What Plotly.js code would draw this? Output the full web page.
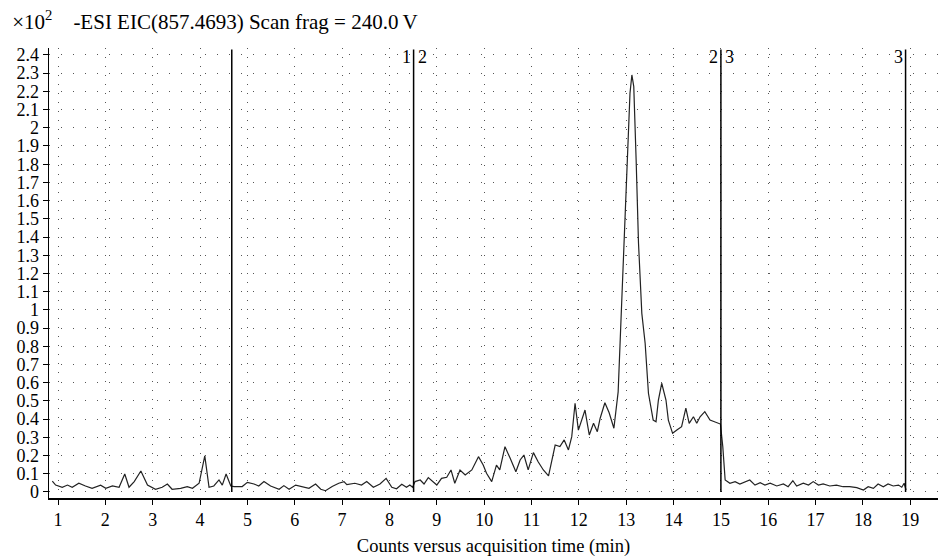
<!DOCTYPE html>
<html>
<head>
<meta charset="utf-8">
<script src="https://cdn.plot.ly/plotly-3.0.1.min.js"></script>
<style>
  html, body { margin: 0; padding: 0; background: #fff; }
  #chart { width: 938px; height: 559px; }
</style>
</head>
<body>
<div id="chart"></div>
<script>
// Acquisition time (min)
var times = [
  0.88, 0.95, 1.09, 1.20, 1.30, 1.44, 1.58, 1.72, 1.90, 2.01,
  2.15, 2.29, 2.41, 2.50, 2.61, 2.75, 2.89, 3.06, 3.20, 3.31,
  3.41, 3.59, 3.73, 3.84, 3.98, 4.10, 4.19, 4.29, 4.40, 4.47,
  4.55, 4.65, 4.72, 4.89, 5.00, 5.14, 5.24, 5.35, 5.49, 5.67,
  5.77, 5.88, 6.02, 6.16, 6.30, 6.44, 6.55, 6.65, 6.79, 6.93,
  7.04, 7.10, 7.27, 7.41, 7.52, 7.66, 7.80, 7.93, 8.05, 8.15,
  8.26, 8.36, 8.43, 8.49, 8.54, 8.65, 8.73, 8.82, 8.91, 9.00,
  9.10, 9.21, 9.30, 9.38, 9.49, 9.60, 9.74, 9.88, 9.98, 10.05,
  10.16, 10.26, 10.33, 10.44, 10.55, 10.67, 10.76, 10.84, 10.93, 11.04,
  11.14, 11.25, 11.36, 11.50, 11.60, 11.69, 11.78, 11.85, 11.92, 11.99,
  12.13, 12.22, 12.31, 12.39, 12.45, 12.55, 12.64, 12.74, 12.83, 12.94,
  13.01, 13.08, 13.12, 13.16, 13.21, 13.26, 13.33, 13.40, 13.47, 13.57,
  13.63, 13.68, 13.75, 13.84, 13.89, 13.98, 14.07, 14.17, 14.26, 14.33,
  14.42, 14.49, 14.56, 14.66, 14.77, 14.87, 14.99, 15.04, 15.09, 15.19,
  15.30, 15.40, 15.51, 15.61, 15.72, 15.83, 15.93, 16.04, 16.18, 16.32,
  16.42, 16.52, 16.60, 16.74, 16.85, 16.95, 17.06, 17.16, 17.30, 17.44,
  17.58, 17.72, 17.87, 18.01, 18.11, 18.22, 18.32, 18.43, 18.53, 18.64,
  18.75, 18.82, 18.87, 18.91
];
// Counts (x10^2)
var counts = [
  0.060, 0.038, 0.026, 0.038, 0.026, 0.048, 0.033, 0.020, 0.037, 0.020,
  0.033, 0.026, 0.099, 0.026, 0.057, 0.115, 0.038, 0.015, 0.026, 0.044,
  0.015, 0.020, 0.029, 0.020, 0.048, 0.198, 0.026, 0.033, 0.066, 0.038,
  0.099, 0.033, 0.030, 0.030, 0.053, 0.044, 0.033, 0.057, 0.033, 0.015,
  0.035, 0.015, 0.038, 0.030, 0.020, 0.044, 0.015, 0.007, 0.030, 0.048,
  0.057, 0.040, 0.048, 0.038, 0.057, 0.026, 0.044, 0.075, 0.026, 0.018,
  0.042, 0.026, 0.038, 0.026, 0.057, 0.066, 0.044, 0.079, 0.057, 0.038,
  0.075, 0.081, 0.121, 0.048, 0.121, 0.093, 0.121, 0.194, 0.148, 0.103,
  0.057, 0.148, 0.121, 0.249, 0.185, 0.111, 0.176, 0.203, 0.121, 0.216,
  0.166, 0.121, 0.088, 0.258, 0.249, 0.286, 0.231, 0.304, 0.487, 0.340,
  0.450, 0.313, 0.377, 0.331, 0.405, 0.490, 0.435, 0.350, 0.550, 1.274,
  1.823, 2.190, 2.290, 2.226, 1.823, 1.366, 0.981, 0.817, 0.542, 0.395,
  0.386, 0.505, 0.597, 0.505, 0.395, 0.322, 0.340, 0.359, 0.460, 0.377,
  0.413, 0.377, 0.413, 0.441, 0.395, 0.386, 0.373, 0.249, 0.066, 0.048,
  0.057, 0.044, 0.057, 0.066, 0.038, 0.051, 0.038, 0.048, 0.033, 0.044,
  0.029, 0.062, 0.033, 0.048, 0.038, 0.057, 0.038, 0.044, 0.033, 0.038,
  0.029, 0.029, 0.024, 0.011, 0.029, 0.020, 0.044, 0.029, 0.044, 0.033,
  0.038, 0.026, 0.048, 0.011
];

// Segment boundaries (min) and their labels
var segmentTimes = [4.67, 8.51, 15.0, 18.9];
var segmentLeftLabels = ["", "1", "2", "3"];
var segmentRightLabels = ["", "2", "3", ""];

// Tick labels
var xTickVals = [1, 2, 3, 4, 5, 6, 7, 8, 9, 10, 11, 12, 13, 14, 15, 16, 17, 18, 19];
var yTickVals = [0, 0.1, 0.2, 0.3, 0.4, 0.5, 0.6, 0.7, 0.8, 0.9, 1, 1.1, 1.2,
                 1.3, 1.4, 1.5, 1.6, 1.7, 1.8, 1.9, 2, 2.1, 2.2, 2.3, 2.4];
var yTickText = ["0", "0.1", "0.2", "0.3", "0.4", "0.5", "0.6", "0.7", "0.8", "0.9", "1", "1.1", "1.2",
                 "1.3", "1.4", "1.5", "1.6", "1.7", "1.8", "1.9", "2", "2.1", "2.2", "2.3", "2.4"];

var titleText = "\u00d710<sup>2</sup>\u00a0\u00a0\u00a0\u00a0-ESI EIC(857.4693) Scan frag = 240.0\u2009V";
var xTitle = "Counts versus acquisition time (min)";

var FONT = "'Liberation Serif', 'DejaVu Serif', serif";
var LINE_TOP = 2.43;

var shapes = [];
var annotations = [];
segmentTimes.forEach(function (t, i) {
  shapes.push({
    type: "line", xref: "x", yref: "y",
    x0: t, x1: t, y0: 0, y1: LINE_TOP,
    line: { color: "#000", width: 1.5 }
  });
  if (segmentLeftLabels[i]) {
    annotations.push({
      x: t, y: 2.39, xref: "x", yref: "y", text: segmentLeftLabels[i],
      showarrow: false, xanchor: "right", yanchor: "middle", xshift: -1,
      font: { family: FONT, size: 18, color: "#000" }
    });
  }
  if (segmentRightLabels[i]) {
    annotations.push({
      x: t, y: 2.39, xref: "x", yref: "y", text: segmentRightLabels[i],
      showarrow: false, xanchor: "left", yanchor: "middle", xshift: 2,
      font: { family: FONT, size: 18, color: "#000" }
    });
  }
});

var data = [{
  type: "scatter", mode: "lines",
  x: times, y: counts,
  line: { color: "#222", width: 1.2 },
  hoverinfo: "x+y", showlegend: false
}];

var layout = {
  width: 938, height: 559,
  margin: { l: 49, r: 0, t: 48, b: 61 },
  paper_bgcolor: "#fff", plot_bgcolor: "#fff",
  font: { family: FONT, size: 18, color: "#000" },
  title: {
    text: titleText,
    x: 0.013, xanchor: "left", xref: "container",
    y: 0.962, yanchor: "middle", yref: "container",
    font: { family: FONT, size: 21, color: "#000" }
  },
  xaxis: {
    range: [0.81, 19.585],
    tickvals: xTickVals,
    ticks: "outside", ticklen: 5, tickwidth: 1, tickcolor: "#000",
    showline: true, linecolor: "#000", linewidth: 1.5,
    showgrid: true, gridcolor: "#555", gridwidth: 1, griddash: "1px,8px",
    zeroline: false,
    tickfont: { family: FONT, size: 18, color: "#000" },
    title: { text: xTitle, font: { family: FONT, size: 18.5, color: "#000" }, standoff: 10 }
  },
  yaxis: {
    range: [-0.033, 2.438],
    tickvals: yTickVals, ticktext: yTickText,
    ticks: "outside", ticklen: 5, tickwidth: 1, tickcolor: "#000",
    showline: true, linecolor: "#000", linewidth: 1.5,
    showgrid: true, gridcolor: "#555", gridwidth: 1, griddash: "1px,11px",
    zeroline: false,
    tickfont: { family: FONT, size: 18, color: "#000" }
  },
  shapes: shapes,
  annotations: annotations
};

Plotly.newPlot("chart", data, layout, { displayModeBar: false, staticPlot: true });
</script>
</body>
</html>
